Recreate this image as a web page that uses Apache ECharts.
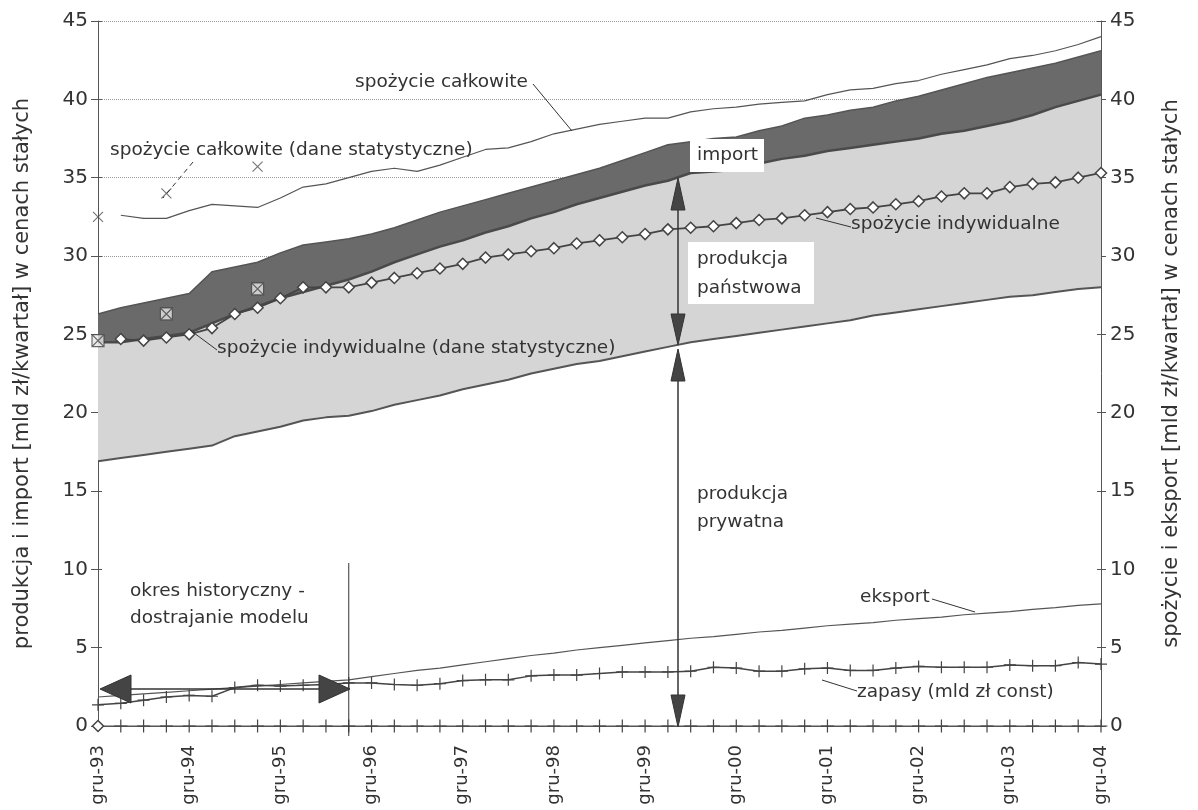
<!DOCTYPE html>
<html><head><meta charset="utf-8">
<script src="https://cdn.jsdelivr.net/npm/echarts@6/dist/echarts.min.js"></script>
<style>html,body{margin:0;padding:0;background:#fff}#c{width:1198px;height:810px}</style>
</head><body><div id="c"></div>
<script>
// ---------- DATA ----------
const categories = ['gru-93','mar-94','cze-94','wrz-94','gru-94','mar-95','cze-95','wrz-95','gru-95','mar-96','cze-96','wrz-96',
  'gru-96','mar-97','cze-97','wrz-97','gru-97','mar-98','cze-98','wrz-98','gru-98','mar-99','cze-99','wrz-99',
  'gru-99','mar-00','cze-00','wrz-00','gru-00','mar-01','cze-01','wrz-01','gru-01','mar-02','cze-02','wrz-02',
  'gru-02','mar-03','cze-03','wrz-03','gru-03','mar-04','cze-04','wrz-04','gru-04'];
const yTicks = [0,5,10,15,20,25,30,35,40,45];

// produkcja prywatna (lower edge of the grey band)
const prodPrywatna = [16.9,17.1,17.3,17.5,17.7,17.9,18.5,18.8,19.1,19.5,19.7,19.8,20.1,20.5,20.8,21.1,21.5,21.8,22.1,22.5,
  22.8,23.1,23.3,23.6,23.9,24.2,24.5,24.7,24.9,25.1,25.3,25.5,25.7,25.9,26.2,26.4,26.6,26.8,27.0,27.2,27.4,27.5,27.7,27.9,28.0];
// produkcja prywatna + państwowa (upper edge of the light band)
const prodRazem = [24.5,24.5,24.7,24.9,25.1,25.7,26.3,26.8,27.3,27.7,28.1,28.5,29.0,29.6,30.1,30.6,31.0,31.5,31.9,32.4,
  32.8,33.3,33.7,34.1,34.5,34.8,35.3,35.4,35.5,35.9,36.2,36.4,36.7,36.9,37.1,37.3,37.5,37.8,38.0,38.3,38.6,39.0,39.5,39.9,40.3];
// produkcja + import (upper edge of the dark band)
const prodImport = [26.3,26.7,27.0,27.3,27.6,29.0,29.3,29.6,30.2,30.7,30.9,31.1,31.4,31.8,32.3,32.8,33.2,33.6,34.0,34.4,
  34.8,35.2,35.6,36.1,36.6,37.1,37.3,37.5,37.6,38.0,38.3,38.8,39.0,39.3,39.5,39.9,40.2,40.6,41.0,41.4,41.7,42.0,42.3,42.7,43.1];
const spozycieCalkowite = ['-',32.6,32.4,32.4,32.9,33.3,33.2,33.1,33.7,34.4,34.6,35.0,35.4,35.6,35.4,35.8,36.3,36.8,36.9,37.3,
  37.8,38.1,38.4,38.6,38.8,38.8,39.2,39.4,39.5,39.7,39.8,39.9,40.3,40.6,40.7,41.0,41.2,41.6,41.9,42.2,42.6,42.8,43.1,43.5,44.0];
const spozycieIndywidualne = ['-',24.7,24.6,24.8,25.0,25.4,26.3,26.7,27.3,28.0,28.0,28.0,28.3,28.6,28.9,29.2,29.5,29.9,30.1,30.3,
  30.5,30.8,31.0,31.2,31.4,31.7,31.8,31.9,32.1,32.3,32.4,32.6,32.8,33.0,33.1,33.3,33.5,33.8,34.0,34.0,34.4,34.6,34.7,35.0,35.3];
const statIndex = [0,3,7];                 // quarters with statistical data
const spozycieCalkowiteStat = [32.5,34.0,35.7];
const spozycieIndywidualneStat = [24.6,26.3,27.9];
const eksport = [1.85,1.95,2.05,2.15,2.25,2.35,2.45,2.55,2.65,2.75,2.85,2.95,3.15,3.35,3.55,3.7,3.9,4.1,4.3,4.5,
  4.65,4.85,5.0,5.15,5.3,5.45,5.6,5.7,5.85,6.0,6.1,6.25,6.4,6.5,6.6,6.75,6.85,6.95,7.1,7.2,7.3,7.45,7.55,7.7,7.8];
const zapasy = [1.35,1.45,1.65,1.85,1.95,1.9,2.45,2.6,2.55,2.6,2.65,2.75,2.75,2.65,2.6,2.7,2.9,2.95,2.95,3.2,
  3.25,3.25,3.35,3.45,3.45,3.45,3.5,3.75,3.7,3.5,3.5,3.65,3.7,3.55,3.55,3.7,3.8,3.75,3.75,3.75,3.9,3.85,3.85,4.05,3.95];

// ---------- BUILD ----------
const panstwowa = prodRazem.map((v,i)=> +(v - prodPrywatna[i]).toFixed(2));
const importDiff = prodImport.map((v,i)=> +(v - prodRazem[i]).toFixed(2));
const sparse = (idx, vals) => categories.map((c,i)=>{ const k = idx.indexOf(i); return k>=0 ? vals[k] : '-'; });
const zeroLine = categories.map((c,i)=> i===0 ? {value:0, symbol:'diamond', symbolSize:11, itemStyle:{color:'#fff',borderColor:'#444',borderWidth:1.5}} : 0);

const FONT = 'DejaVu Sans';
const TXT = '#333';
const GL = 98, GR = 97, GT = 21, GB = 84;
const plotW = 1198 - GL - GR, plotH = 810 - GT - GB;
const X = q => GL + q * plotW / (categories.length - 1);
const Y = v => GT + (45 - v) * plotH / 45;

const plusPath = 'path://M5,0L5,10M0,5L10,5';
const xPath = 'path://M0,0L10,10M10,0L0,10';
const boxXPath = 'path://M0,0L10,0L10,10L0,10Z M0,0L10,10 M10,0L0,10';

const chart = echarts.init(document.getElementById('c'), null, {renderer:'canvas'});

function text(str, x, y, size, extra) {
  return Object.assign({type:'text', x, y, z:100, style:{text:str, fill:TXT, font:`${size||18.5}px "${FONT}"`, textVerticalAlign:'middle'}}, extra||{});
}
function line(x1,y1,x2,y2,w,dash) {
  return {type:'line', z:100, shape:{x1,y1,x2,y2}, style:{stroke:'#333', lineWidth:w||1, lineDash: dash||null}};
}
function poly(points) {
  return {type:'polygon', z:101, shape:{points}, style:{fill:'#444', stroke:'#333', lineWidth:1}};
}
function rect(x,y,w,h) {
  return {type:'rect', z:99, shape:{x,y,width:w,height:h}, style:{fill:'#fff'}};
}

const ax = 678; // x of the vertical production arrows
const graphics = [
  text('spożycie całkowite', 355, 82),
  line(533,84,572,131),
  text('spożycie całkowite (dane statystyczne)', 110, 150),
  line(193,162,163,198,1,[5,4]),
  rect(690,139,74,33),
  text('import', 697, 155),
  rect(688,242,126,62),
  text('produkcja', 697, 259),
  text('państwowa', 697, 288),
  text('produkcja', 697, 494),
  text('prywatna', 697, 522),
  text('spożycie indywidualne', 851, 224),
  line(816,218,851,227),
  text('spożycie indywidualne (dane statystyczne)', 217, 348),
  line(190,330,217,350),
  text('okres historyczny -', 130, 591),
  text('dostrajanie modelu', 130, 618),
  text('eksport', 860, 597),
  line(932,599,975,612),
  text('zapasy (mld zł const)', 857, 692),
  line(822,680,857,691),
  // historical period separator
  line(X(11),563,X(11),736,1),
  // horizontal double arrow
  line(112,689,338,689,1.5),
  poly([[100,689],[131,675],[131,703]]),
  poly([[350,689],[319,675],[319,703]]),
  // vertical arrows (produkcja państwowa / prywatna)
  line(ax,195,ax,330,1.5),
  poly([[ax,178],[ax-7,210],[ax+7,210]]),
  poly([[ax,345],[ax-7,314],[ax+7,314]]),
  line(ax,365,ax,710,1.5),
  poly([[ax,349],[ax-7,381],[ax+7,381]]),
  poly([[ax,727],[ax-7,695],[ax+7,695]])
];

const splitColors = yTicks.map(v => v >= 30 ? '#9a9a9a' : 'rgba(0,0,0,0)');

const yBase = {type:'value', min:0, max:45, interval:5};
const option = {
  animation:false,
  backgroundColor:'#fff',
  grid:{left:GL, right:GR, top:GT, bottom:GB, containLabel:false},
  xAxis:{type:'category', data:categories, boundaryGap:false,
    axisLine:{lineStyle:{color:'#555', width:1}}, axisTick:{show:false},
    axisLabel:{interval:3, rotate:90, color:TXT, fontFamily:FONT, fontSize:18, margin:19},
    splitLine:{show:false}},
  yAxis:[
    Object.assign({}, yBase, {position:'left', name:'produkcja i import [mld zł/kwartał] w cenach stałych',
      nameLocation:'middle', nameRotate:90, nameGap:65, nameTextStyle:{color:TXT, fontFamily:FONT, fontSize:21},
      axisLine:{show:true, lineStyle:{color:'#555'}}, axisTick:{show:true, length:7, lineStyle:{color:'#555'}},
      axisLabel:{color:TXT, fontFamily:FONT, fontSize:20, margin:10},
      splitLine:{show:true, lineStyle:{color:splitColors, type:'dotted', width:1}}}),
    Object.assign({}, yBase, {position:'right', name:'spożycie i eksport [mld zł/kwartał] w cenach stałych',
      nameLocation:'middle', nameRotate:90, nameGap:60, nameTextStyle:{color:TXT, fontFamily:FONT, fontSize:21},
      axisLine:{show:true, lineStyle:{color:'#555'}}, axisTick:{show:true, length:5, lineStyle:{color:'#555'}},
      axisLabel:{color:TXT, fontFamily:FONT, fontSize:20, margin:9},
      splitLine:{show:false}}),
    Object.assign({}, yBase, {position:'left', axisLine:{show:false}, axisLabel:{show:false},
      axisTick:{show:true, inside:true, length:4, lineStyle:{color:'#555'}}, splitLine:{show:false}}),
    Object.assign({}, yBase, {position:'right', axisLine:{show:false}, axisLabel:{show:false},
      axisTick:{show:true, inside:true, length:4, lineStyle:{color:'#555'}}, splitLine:{show:false}})
  ],
  series:[
    {name:'produkcja prywatna', type:'line', stack:'prod', data:prodPrywatna, symbol:'none',
      lineStyle:{color:'#555', width:2}, z:2},
    {name:'produkcja państwowa', type:'line', stack:'prod', data:panstwowa, symbol:'none',
      areaStyle:{color:'#d5d5d5', opacity:1}, lineStyle:{color:'#4a4a4a', width:2.5}, z:2},
    {name:'import', type:'line', stack:'prod', data:importDiff, symbol:'none',
      areaStyle:{color:'#6a6a6a', opacity:1}, lineStyle:{color:'#555', width:1.5}, z:2},
    {name:'spożycie całkowite', type:'line', yAxisIndex:1, data:spozycieCalkowite, symbol:'none',
      lineStyle:{color:'#555', width:1.2}, z:3},
    {name:'spożycie całkowite (dane statystyczne)', type:'scatter', yAxisIndex:1, data:sparse(statIndex, spozycieCalkowiteStat),
      symbol:xPath, symbolSize:10, itemStyle:{color:'none', borderColor:'#555', borderWidth:1.2}, z:4},
    {name:'spożycie indywidualne', type:'line', yAxisIndex:1, data:spozycieIndywidualne, symbol:'diamond', symbolSize:11,
      showAllSymbol:true, lineStyle:{color:'#444', width:1.8}, itemStyle:{color:'#fff', borderColor:'#444', borderWidth:1.5}, z:4},
    {name:'spożycie indywidualne (dane statystyczne)', type:'scatter', yAxisIndex:1, data:sparse(statIndex, spozycieIndywidualneStat),
      symbol:boxXPath, symbolSize:12, itemStyle:{color:'#e6e6e6', borderColor:'#444', borderWidth:1.2}, z:5},
    {name:'eksport', type:'line', yAxisIndex:1, data:eksport, symbol:'none', lineStyle:{color:'#555', width:1.2}, z:3},
    {name:'zapasy (mld zł const)', type:'line', data:zapasy, symbol:plusPath, symbolSize:12, showAllSymbol:true,
      lineStyle:{color:'#444', width:1.5}, itemStyle:{color:'none', borderColor:'#444', borderWidth:1.2}, z:3},
    {name:'zero', type:'line', data:zeroLine, symbol:plusPath, symbolSize:13, showAllSymbol:true,
      lineStyle:{color:'#555', width:1.2}, itemStyle:{color:'none', borderColor:'#444', borderWidth:1.2}, z:3}
  ],
  graphic:{elements:graphics}
};
chart.setOption(option);
</script></body></html>
